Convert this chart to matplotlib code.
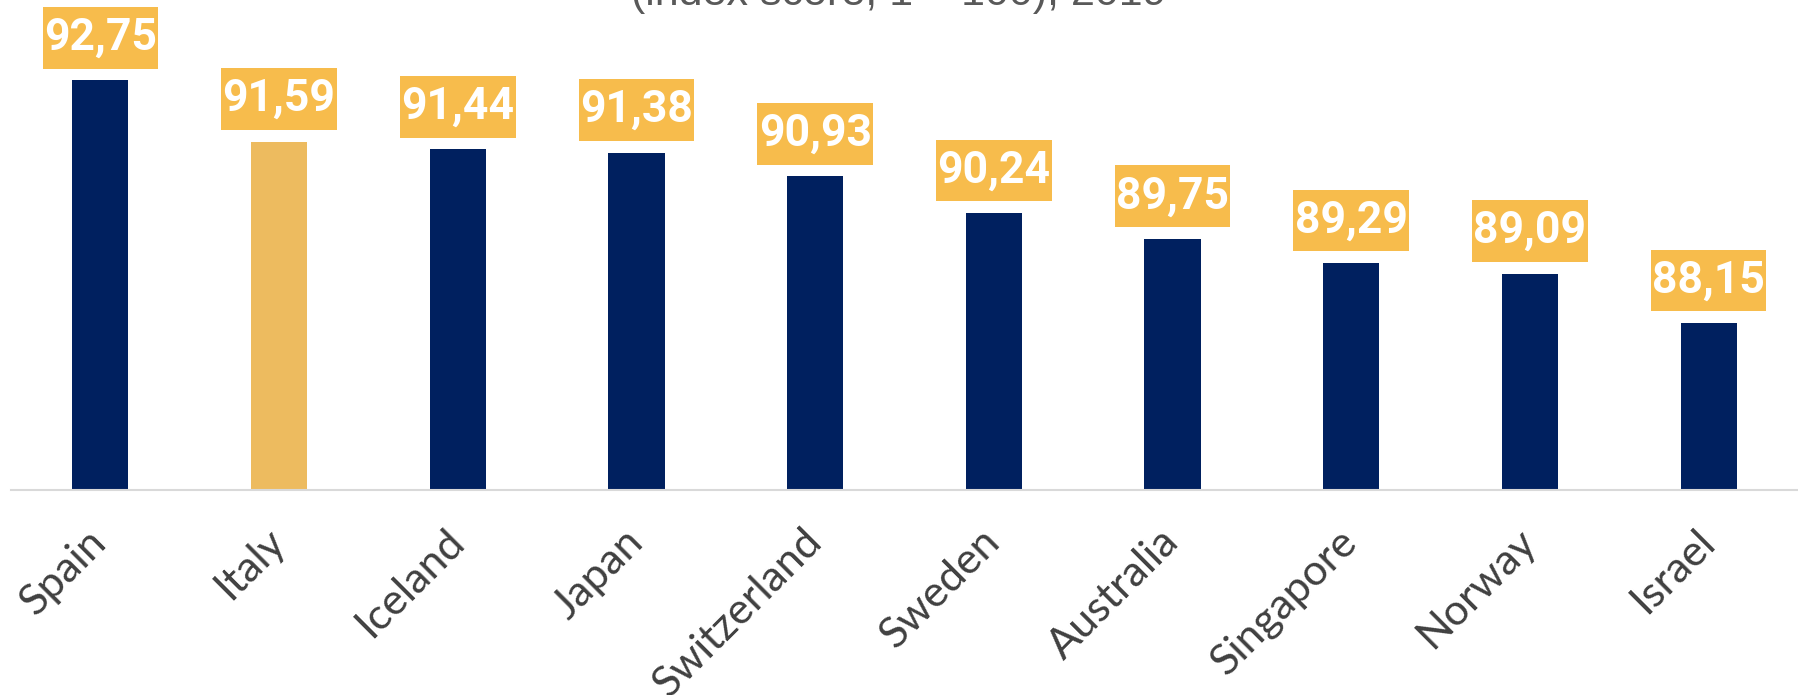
#!/usr/bin/env python3
"""Healthiest countries index score bar chart."""
import matplotlib
matplotlib.use("Agg")
import matplotlib.pyplot as plt
from matplotlib.path import Path

COUNTRIES = ["Spain", "Italy", "Iceland", "Japan", "Switzerland",
             "Sweden", "Australia", "Singapore", "Norway", "Israel"]
SCORES = [92.75, 91.59, 91.44, 91.38, 90.93, 90.24, 89.75, 89.29, 89.09, 88.15]
HIGHLIGHT = "Italy"

NAVY = "#00205F"
GOLD = "#EDBB5F"
LABEL_BG = "#F7BC4C"


def label_box(x0, y0, width, height, mutation_size):
    # rectangle with small side padding and taller top/bottom padding
    px, py = 0.03 * mutation_size, 0.22 * mutation_size
    x0, y0 = x0 - px, y0 - py
    x1, y1 = x0 + width + 2 * px, y0 + height + 2 * py
    return Path([(x0, y0), (x1, y0), (x1, y1), (x0, y1), (x0, y0)], closed=True)


def main():
    fig = plt.figure(figsize=(17.98, 6.95), dpi=100)
    ax = fig.add_axes([11 / 1798, 1 - 489.6 / 695, 1 - 11 / 1798, 489.6 / 695])

    colors = [GOLD if c == HIGHLIGHT else NAVY for c in COUNTRIES]
    x = range(len(COUNTRIES))
    ax.bar(x, SCORES, width=0.315, color=colors, zorder=2)

    ax.set_xlim(-0.5, len(COUNTRIES) - 0.5)
    ax.set_ylim(85, 94.27)

    for i, v in enumerate(SCORES):
        ax.annotate(f"{v:.2f}".replace(".", ","), xy=(i, v), xytext=(0, 15.5),
                    textcoords="offset points", ha="center", va="bottom",
                    fontsize=32, fontweight="bold", family="Roboto", color="white",
                    bbox=dict(boxstyle=label_box, fc=LABEL_BG, ec="none"))

    for s in ["top", "right", "left"]:
        ax.spines[s].set_visible(False)
    ax.spines["bottom"].set_color("#D9D9D9")
    ax.spines["bottom"].set_linewidth(1.5)
    ax.set_yticks([])
    ax.set_xticks(list(x))
    ax.set_xticklabels(COUNTRIES, rotation=45, ha="right", va="center",
                       rotation_mode="anchor", fontsize=31, family="Lato",
                       color="#404040")
    ax.tick_params(axis="x", length=0, pad=33)

    fig.text(0.5, 1 - 5 / 695, "(index score, 1 \u2013 100), 2019", ha="center",
             va="baseline", fontsize=31, family="Liberation Sans", color="#595959")

    fig.savefig("out.png", dpi=100)
    plt.close(fig)


if __name__ == "__main__":
    main()
